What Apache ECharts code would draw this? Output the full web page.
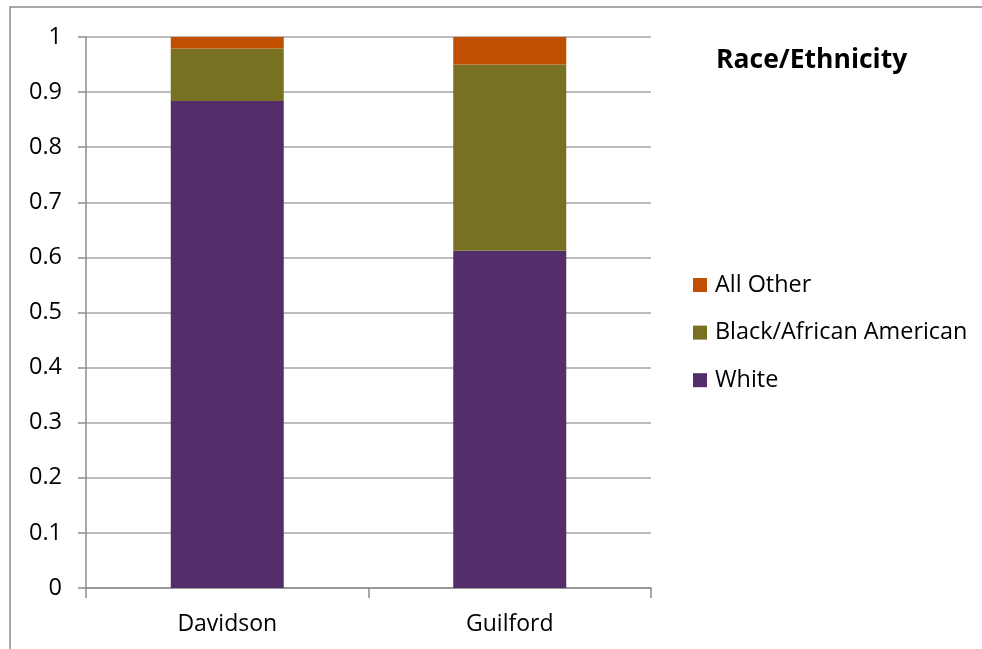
<!DOCTYPE html>
<html>
<head>
<meta charset="utf-8">
<script src="https://cdn.jsdelivr.net/npm/echarts@6/dist/echarts.min.js"></script>
<style>
  html, body { margin: 0; padding: 0; background: #ffffff; }
  #chart { width: 982px; height: 649px; }
</style>
</head>
<body>
<div id="chart"></div>
<script>
// Counties on the category axis
const counties = ['Davidson', 'Guilford'];

// Population share by race/ethnicity (fractions of 1)
const white = [0.884, 0.612];
const black = [0.095, 0.338];
const allOther = [0.021, 0.050];

// Value-axis settings
const yMin = 0;
const yMax = 1;
const yStep = 0.1;

const FONT = 'Open Sans';
const chart = echarts.init(document.getElementById('chart'));

chart.setOption({
  animation: false,
  backgroundColor: '#ffffff',
  textStyle: { fontFamily: FONT },
  graphic: [{
    type: 'rect',
    shape: { x: 10, y: 7, width: 990, height: 660 },
    style: { fill: 'none', stroke: '#8c8c8c', lineWidth: 1.5 },
    silent: true
  }],
  title: {
    text: 'Race/Ethnicity',
    left: 711,
    top: 42,
    textStyle: { fontFamily: FONT, fontSize: 26.5, fontWeight: 'bold', color: '#000' }
  },
  legend: {
    orient: 'vertical',
    left: 688,
    top: 268.5,
    itemWidth: 14,
    itemHeight: 14,
    itemGap: 24.6,
    icon: 'rect',
    data: ['All Other', 'Black/African American', 'White'],
    textStyle: { fontFamily: FONT, fontSize: 23.4, color: '#000', padding: [0, 0, 0, 3] }
  },
  grid: { left: 86, right: 331, top: 37, bottom: 61, containLabel: false },
  xAxis: {
    type: 'category',
    data: counties,
    axisLine: { lineStyle: { color: '#8c8c8c', width: 1.5 } },
    axisTick: { show: true, length: 10, alignWithLabel: false, lineStyle: { color: '#8c8c8c', width: 1.5 } },
    axisLabel: { fontFamily: FONT, fontSize: 23, color: '#000', margin: 25 }
  },
  yAxis: {
    type: 'value',
    min: yMin,
    max: yMax,
    interval: yStep,
    axisLine: { show: true, lineStyle: { color: '#8c8c8c', width: 1.5 } },
    axisTick: { show: true, length: 8, lineStyle: { color: '#8c8c8c', width: 1.5 } },
    splitLine: { lineStyle: { color: '#a6a6a6', width: 1.5 } },
    axisLabel: {
      fontFamily: FONT, fontSize: 23.5, color: '#000', margin: 24,
      formatter: v => String(Math.round(v * 10) / 10)
    }
  },
  series: [
    { name: 'White', type: 'bar', stack: 'race', data: white, barWidth: '40%',
      itemStyle: { color: '#532e6b' } },
    { name: 'Black/African American', type: 'bar', stack: 'race', data: black, barWidth: '40%',
      itemStyle: { color: '#787122' } },
    { name: 'All Other', type: 'bar', stack: 'race', data: allOther, barWidth: '40%',
      itemStyle: { color: '#c05000' } }
  ]
});
</script>
</body>
</html>
